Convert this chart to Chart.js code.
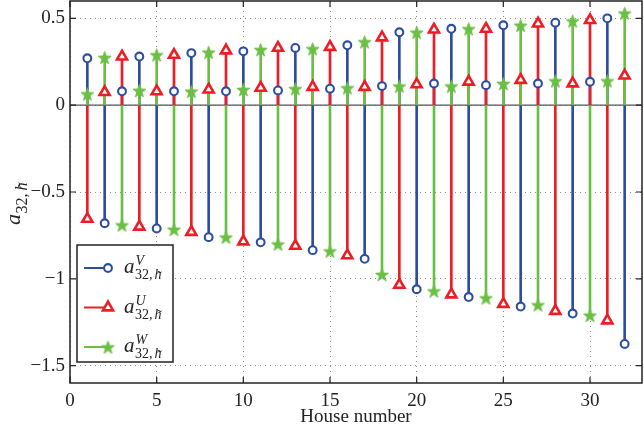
<!DOCTYPE html>
<html>
<head>
<meta charset="utf-8">
<script src="https://cdn.jsdelivr.net/npm/chart.js@4/dist/chart.umd.min.js"></script>
<style>
    html, body { margin: 0; padding: 0; background: #fff; }
    #wrap { width: 644px; height: 432px; }
</style>
</head>
<body>
<div id="wrap"><canvas id="stem-chart" width="644" height="432"></canvas></div>
<script>
// House numbers and the three phase coefficients a_{32,h}
const houses = [1, 2, 3, 4, 5, 6, 7, 8, 9, 10, 11, 12, 13, 14, 15, 16,
                17, 18, 19, 20, 21, 22, 23, 24, 25, 26, 27, 28, 29, 30, 31, 32];

const a_v = [0.27, -0.68, 0.08, 0.28, -0.71, 0.08, 0.30, -0.76, 0.08, 0.31, -0.79, 0.085,
             0.33, -0.835, 0.095, 0.345, -0.885, 0.11, 0.42, -1.06, 0.125, 0.44, -1.105, 0.115,
             0.46, -1.16, 0.125, 0.475, -1.20, 0.135, 0.50, -1.375];

const a_u = [-0.655, 0.075, 0.28, -0.70, 0.08, 0.29, -0.73, 0.09, 0.315, -0.785, 0.10, 0.33,
             -0.81, 0.105, 0.335, -0.865, 0.105, 0.39, -1.035, 0.12, 0.435, -1.09, 0.135, 0.44,
             -1.145, 0.145, 0.47, -1.185, 0.125, 0.49, -1.24, 0.17];

const a_w = [0.065, 0.275, -0.69, 0.085, 0.29, -0.715, 0.08, 0.305, -0.76, 0.09, 0.32, -0.80,
             0.095, 0.325, -0.84, 0.10, 0.365, -0.975, 0.11, 0.42, -1.07, 0.11, 0.44, -1.11,
             0.125, 0.46, -1.15, 0.14, 0.485, -1.21, 0.14, 0.53];

const x_ticks = [0, 5, 10, 15, 20, 25, 30];
const y_ticks = [-1.5, -1, -0.5, 0, 0.5];
const legend_sups = ['V', 'U', 'W'];

const BLUE = '#2d4ea0';
const RED = '#ee1c25';
const GREEN = '#6bbf45';
const SERIF = '"Liberation Serif", "DejaVu Serif", serif';

Chart.defaults.font.family = SERIF;
Chart.defaults.font.size = 19;

/**
 * Build a filled five point star to use as point style
 *
 * @param {string} color
 * @param {number} r_out
 * @param {number} r_in
 */
function make_star(color, r_out, r_in) {
    let size = Math.ceil(r_out * 2 + 3);
    let c = document.createElement('canvas');
    c.width = size;
    c.height = size;

    let g = c.getContext('2d');
    g.translate(size / 2, size / 2 + 0.8);
    g.beginPath();

    for (let k = 0; k < 10; k++) {
        let r = k % 2 ? r_in : r_out;
        let ang = -Math.PI / 2 + k * Math.PI / 5;
        g.lineTo(r * Math.cos(ang), r * Math.sin(ang));
    }

    g.closePath();
    g.fillStyle = color;
    g.fill();
    g.strokeStyle = color;
    g.lineWidth = 1;
    g.stroke();

    return c;
}

const star_img = make_star(GREEN, 6.8, 2.7);

const marker_styles = [
    { pointStyle: 'circle', radius: 3.9, borderWidth: 2.1, color: BLUE },
    { pointStyle: 'triangle', radius: 5.8, borderWidth: 2.6, color: RED },
    { pointStyle: star_img, radius: 6, borderWidth: 0, color: GREEN }
];

/**
 * Stem lines drawn as thin bars from zero
 */
function stem_dataset(values, color, order) {
    return {
        type: 'bar',
        data: houses.map((h, i) => ({ x: h, y: values[i] })),
        backgroundColor: color,
        borderWidth: 0,
        barThickness: 2,
        grouped: false,
        order: order
    };
}

/**
 * Markers at the end of each stem
 */
function marker_dataset(values, style, order) {
    return {
        type: 'line',
        showLine: false,
        data: houses.map((h, i) => ({ x: h, y: values[i] })),
        pointStyle: style.pointStyle,
        pointRadius: style.radius,
        pointBorderWidth: style.borderWidth,
        pointBorderColor: style.color,
        pointBackgroundColor: '#fff',
        clip: false,
        order: order
    };
}

/**
 * Draw a_{32,h~} with an optional superscript
 */
function draw_math(ctx, x, y, sup, big, small, gap) {
    ctx.textAlign = 'left';
    ctx.textBaseline = 'alphabetic';
    ctx.font = 'italic ' + big + 'px ' + SERIF;
    ctx.fillText('a', x, y);
    let w = ctx.measureText('a').width;

    ctx.font = small + 'px ' + SERIF;
    let sub_y = y + small * 0.45;
    ctx.fillText('32,', x + w + 0.5, sub_y);
    let w2 = ctx.measureText('32,').width;

    ctx.font = 'italic ' + small + 'px ' + SERIF;
    let hx = x + w + 0.5 + w2 + gap;
    ctx.fillText('h', hx, sub_y);
    let wh = ctx.measureText('h').width;

    ctx.font = small + 'px ' + SERIF;
    let wt = ctx.measureText('\u02dc').width;
    ctx.fillText('\u02dc', hx + wh / 2 - wt / 2 + 1.5, sub_y + small * 0.12);

    if (sup) {
        ctx.font = 'italic ' + small + 'px ' + SERIF;
        ctx.fillText(sup, x + w + 1, y - small * 0.55);
    }
}

const frame_plugin = {
    id: 'frame',
    beforeDatasetsDraw(chart) {
        let ctx = chart.ctx;
        let area = chart.chartArea;
        let y0 = chart.scales.y.getPixelForValue(0);

        ctx.save();
        ctx.strokeStyle = '#555';
        ctx.lineWidth = 1.2;
        ctx.beginPath();
        ctx.moveTo(area.left, y0);
        ctx.lineTo(area.right, y0);
        ctx.stroke();
        ctx.restore();
    },
    afterDraw(chart) {
        let ctx = chart.ctx;
        let area = chart.chartArea;
        let xs = chart.scales.x;
        let ys = chart.scales.y;

        ctx.save();

        // box around the axes and inner ticks
        ctx.strokeStyle = '#222';
        ctx.lineWidth = 1.5;
        ctx.strokeRect(area.left, area.top, area.right - area.left, area.bottom - area.top);

        ctx.lineWidth = 1.2;
        ctx.beginPath();
        xs.ticks.forEach(t => {
            let px = xs.getPixelForValue(t.value);
            ctx.moveTo(px, area.bottom);
            ctx.lineTo(px, area.bottom - 6);
            ctx.moveTo(px, area.top);
            ctx.lineTo(px, area.top + 6);
        });
        ys.ticks.forEach(t => {
            let py = ys.getPixelForValue(t.value);
            ctx.moveTo(area.left, py);
            ctx.lineTo(area.left + 6, py);
            ctx.moveTo(area.right, py);
            ctx.lineTo(area.right - 6, py);
        });
        ctx.stroke();

        // legend
        let lx = 77, ly = 245, lw = 96, lh = 117;
        ctx.fillStyle = '#fff';
        ctx.fillRect(lx, ly, lw, lh);
        ctx.strokeStyle = '#222';
        ctx.lineWidth = 1.5;
        ctx.strokeRect(lx, ly, lw, lh);

        marker_styles.forEach((st, i) => {
            let ey = 268 + i * 39.5;
            ctx.strokeStyle = st.color;
            ctx.lineWidth = 2;
            ctx.beginPath();
            ctx.moveTo(84, ey);
            ctx.lineTo(108, ey);
            ctx.stroke();

            ctx.fillStyle = '#fff';
            ctx.lineWidth = st.borderWidth;
            Chart.helpers.drawPoint(ctx, {
                pointStyle: st.pointStyle, radius: st.radius,
                borderWidth: st.borderWidth, rotation: 0
            }, 108, ey);

            ctx.fillStyle = '#222';
            draw_math(ctx, 124, ey + 5, legend_sups[i], 21, 14, 2);
        });

        // axis titles
        ctx.fillStyle = '#222';
        ctx.font = '19px ' + SERIF;
        ctx.textAlign = 'center';
        ctx.textBaseline = 'middle';
        ctx.fillText('House number', (area.left + area.right) / 2, 417);

        ctx.translate(20, 225);
        ctx.rotate(-Math.PI / 2);
        draw_math(ctx, 0, 0, null, 22, 16, 3);

        ctx.restore();
    }
};

const tick_font = { family: SERIF, size: 19 };

new Chart(document.getElementById('stem-chart').getContext('2d'), {
    type: 'bar',
    data: {
        datasets: [
            stem_dataset(a_v, BLUE, 6),
            stem_dataset(a_u, RED, 5),
            stem_dataset(a_w, GREEN, 4),
            marker_dataset(a_v, marker_styles[0], 3),
            marker_dataset(a_u, marker_styles[1], 2),
            marker_dataset(a_w, marker_styles[2], 1)
        ]
    },
    options: {
        responsive: false,
        animation: false,
        devicePixelRatio: 1,
        layout: { autoPadding: false, padding: { top: 1, right: 2, left: 0, bottom: 0 } },
        plugins: {
            legend: { display: false },
            tooltip: { enabled: false }
        },
        scales: {
            x: {
                type: 'linear',
                min: 0,
                max: 33,
                offset: false,
                afterBuildTicks: scale => { scale.ticks = x_ticks.map(v => ({ value: v })); },
                afterFit: scale => {
                    scale.height = 49;
                    scale.paddingLeft = 0;
                    scale.paddingRight = 0;
                },
                grid: { offset: false, color: '#8a8a8a', lineWidth: 1, drawTicks: false },
                border: { display: false, dash: [1, 4] },
                ticks: { color: '#222', font: tick_font, padding: 7, maxRotation: 0, autoSkip: false }
            },
            y: {
                min: -1.6,
                max: 0.6,
                afterBuildTicks: scale => { scale.ticks = y_ticks.map(v => ({ value: v })); },
                afterFit: scale => {
                    scale.width = 70;
                    scale.paddingTop = 0;
                    scale.paddingBottom = 0;
                },
                grid: { color: '#8a8a8a', lineWidth: 1, drawTicks: false },
                border: { display: false, dash: [1, 4] },
                ticks: {
                    color: '#222', font: tick_font, padding: 5,
                    callback: v => String(v).replace('-', '\u2212')
                }
            }
        }
    },
    plugins: [frame_plugin]
});
</script>
</body>
</html>
